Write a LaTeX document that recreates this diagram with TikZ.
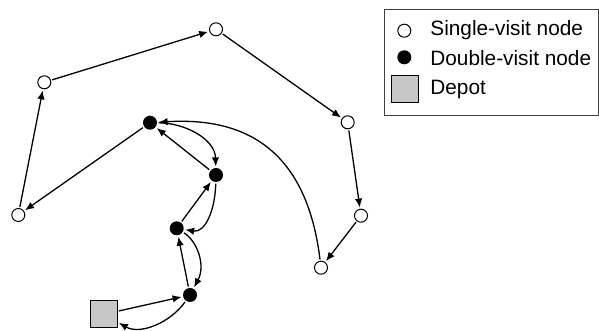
\documentclass[tikz,border=0pt]{standalone}
\usepackage{fontspec}
\setmainfont{Liberation Sans}
\usetikzlibrary{arrows.meta}
\begin{document}
\begin{tikzpicture}[x=0.5pt,y=0.5pt,
  single/.style={circle,draw,fill=white,line width=0.5pt,minimum size=6.5pt,inner sep=0pt},
  double/.style={circle,fill=black,minimum size=7pt,inner sep=0pt},
  depot/.style={rectangle,draw,fill=black!22,line width=0.5pt,minimum size=13.3pt,inner sep=0pt},
  arr/.style={line width=0.65pt,shorten >=0.6pt,shorten <=0.6pt,-{Latex[length=4.5pt,width=3.7pt]}},
  legtext/.style={anchor=base west,font=\fontsize{10.4}{12}\selectfont,inner sep=0pt}]
\useasboundingbox (0,0) rectangle (599,331);

% customer nodes
\node[single] (A) at (216,301.7) {};
\node[single] (B) at (44.3,248.7) {};
\node[single] (C) at (18.3,116) {};
\node[single] (E) at (347.7,208.7) {};
\node[single] (F) at (361,115.3) {};
\node[single] (G) at (321,63.3) {};
\node[double] (D1) at (150,208.3) {};
\node[double] (D2) at (216,156) {};
\node[double] (D3) at (176.7,102.7) {};
\node[double] (D4) at (190,36) {};
\node[depot] (Dp) at (104,16.7) {};

% single-visit tour
\draw[arr] (B) -- (A);
\draw[arr] (A) -- (E);
\draw[arr] (E) -- (F);
\draw[arr] (F) -- (G);
\draw[arr] (G) .. controls (305,195) and (230,213) .. (D1);
\draw[arr] (D1) -- (C);
\draw[arr] (C) -- (B);

% double-visit chain
\draw[arr] (Dp) -- (D4);
\draw[arr] (D4) -- (D3);
\draw[arr] (D3) -- (D2);
\draw[arr] (D2) -- (D1);
\draw[arr] (D1) .. controls (185,208) and (215,192) .. (D2);
\draw[arr] (D2) .. controls (215,120) and (205,98) .. (D3);
\draw[arr] (D3) .. controls (197,90) and (206,66) .. (D4);
\draw[arr] (D4) .. controls (170,8) and (140,-4) .. (Dp);

% legend
\draw[line width=0.5pt,black!75] (384.5,321.5) rectangle (598,215.5);
\node[single] (L1) at (404.3,300.3) {};
\node[double] (L2) at (404.3,273.7) {};
\node[depot,minimum size=13.5pt] (L3) at (405.3,242) {};
\node[legtext] (T1) at (430,295) {Single-visit node};
\node[legtext] (T2) at (430,265.7) {Double-visit node};
\node[legtext] (T3) at (430,236.7) {Depot};
\end{tikzpicture}
\end{document}
